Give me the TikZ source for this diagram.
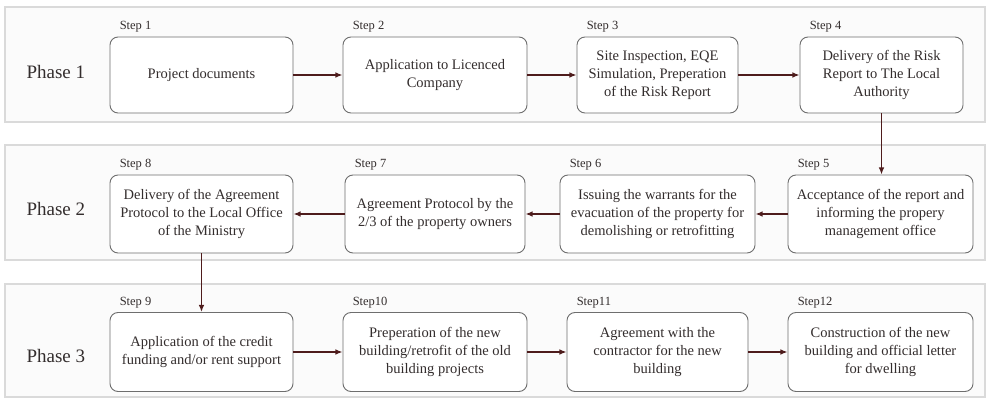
\documentclass[tikz,border=0pt]{standalone}
\usepackage{fontspec}
\setmainfont{Liberation Serif}
\newfontfamily\diagramfont{Liberation Serif}
\usetikzlibrary{arrows.meta,positioning}
\definecolor{ink}{HTML}{332D2D}
\definecolor{frame}{HTML}{6E6E6E}
\definecolor{flowRed}{HTML}{4E1C1C}
\definecolor{bandFill}{HTML}{FBFBFB}
\definecolor{bandEdge}{HTML}{DADADA}
\tikzset{
    >={Latex[length=2.5mm,width=2mm]},
    band/.style={draw=bandEdge, fill=bandFill, line width=1.2pt},
    stepbox/.style={draw=frame, fill=white, rounded corners=8pt,
                    line width=0.9pt, minimum height=76pt, inner sep=2pt,
                    align=center, text=ink,
                    font=\diagramfont\fontsize{14.5}{18}\selectfont},
    step tag/.style={font=\diagramfont\fontsize{12.5}{14}\selectfont,
                     text=ink, inner sep=0pt},
    phase tag/.style={font=\diagramfont\fontsize{19}{22}\selectfont,
                      text=ink, anchor=west},
    flow arrow/.style={flowRed, line width=1.4pt, ->},
}

\begin{document}
\begin{tikzpicture}[x=1pt,y=-1pt]
\useasboundingbox (0,0) rectangle (990,401);

% Three phase bands.
\draw[band] (5,7) rectangle (985,122);
\draw[band] (5,145) rectangle (985,260);
\draw[band] (5,284) rectangle (985,397);
\node[phase tag] (ph1) at (23,72) {Phase 1};
\node[phase tag] (ph2) at (23,209) {Phase 2};
\node[phase tag] (ph3) at (23,356) {Phase 3};

% Phase 1: left to right.
\node[stepbox, minimum width=183pt] (s1) at (201.5,75) {Project documents};
\node[stepbox, minimum width=184pt] (s2) at (435,75)
    {Application to Licenced\\Company};
\node[stepbox, minimum width=161pt] (s3) at (657.5,75)
    {Site Inspection, EQE\\Simulation, Preperation\\of the Risk Report};
\node[stepbox, minimum width=163pt] (s4) at (881.5,75)
    {Delivery of the Risk\\Report to The Local\\Authority};

% Phase 2: right to left.
\node[stepbox, minimum width=185pt, minimum height=78pt] (s5) at (880.5,214)
    {Acceptance of the report and\\informing the propery\\management office};
\node[stepbox, minimum width=195pt, minimum height=78pt] (s6) at (657.5,214)
    {Issuing the warrants for the\\evacuation of the property for\\demolishing or retrofitting};
\node[stepbox, minimum width=180pt, minimum height=78pt] (s7) at (435,214)
    {Agreement Protocol by the\\2/3 of the property owners};
\node[stepbox, minimum width=183pt, minimum height=78pt] (s8) at (201.5,214)
    {Delivery of the Agreement\\Protocol to the Local Office\\of the Ministry};

% Phase 3: left to right again.
\node[stepbox, minimum width=183pt, minimum height=79pt] (s9) at (201.5,352)
    {Application of the credit\\funding and/or rent support};
\node[stepbox, minimum width=184pt, minimum height=79pt] (s10) at (435,352)
    {Preperation of the new\\building/retrofit of the old\\building projects};
\node[stepbox, minimum width=181pt, minimum height=79pt] (s11) at (657.5,352)
    {Agreement with the\\contractor for the new\\building};
\node[stepbox, minimum width=185pt, minimum height=79pt] (s12) at (880.5,352)
    {Construction of the new\\building and official letter\\for dwelling};

% Step tags over each box.
\foreach \n/\t in {1/Step 1,2/Step 2,3/Step 3,4/Step 4,5/Step 5,6/Step 6,
                   7/Step 7,8/Step 8,9/Step 9,10/Step10,11/Step11,12/Step12} {
    \node[step tag, above right=4pt and 10pt] (tag\n) at (s\n.north west) {\t};
}

% Flow between the steps.
\draw[flow arrow] (s1) -- (s2);
\draw[flow arrow] (s2) -- (s3);
\draw[flow arrow] (s3) -- (s4);
\draw[flow arrow] (s4.south) -- (s4.south |- s5.north);
\draw[flow arrow] (s5) -- (s6);
\draw[flow arrow] (s6) -- (s7);
\draw[flow arrow] (s7) -- (s8);
\draw[flow arrow] (s8.south) -- (s8.south |- s9.north);
\draw[flow arrow] (s9) -- (s10);
\draw[flow arrow] (s10) -- (s11);
\draw[flow arrow] (s11) -- (s12);

\end{tikzpicture}
\end{document}
